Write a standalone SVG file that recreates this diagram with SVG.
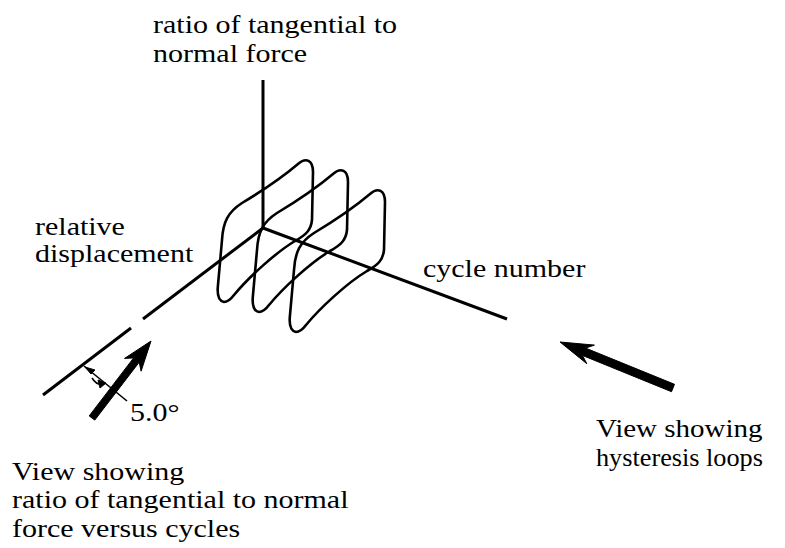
<svg xmlns="http://www.w3.org/2000/svg" width="785" height="548" viewBox="0 0 785 548">
<style>
.t{font-family:"Liberation Serif","Times New Roman",serif;font-size:25px;fill:#000}
.ax{stroke:#000;stroke-width:3;fill:none}
.lp{stroke:#000;stroke-width:2.6;fill:none;stroke-linejoin:round}
.thin{stroke:#000;stroke-width:1.6;fill:none}
.arr{fill:#000;stroke:#000;stroke-width:1;stroke-linejoin:round}
</style>
<defs>
<path id="loop" d="M224,302 C218,301 217,294 218,285 L222,240 C223,222 228,212 242,203 C262,191 285,175 298,164 C306,157 313,160 313,172 L312,220 C311,230 306,235 295,241 C275,253 248,278 234,295 C231,299 228,302 224,302 Z"/>
</defs>
<rect width="785" height="548" fill="#fff"/>
<g id="axes">
<line class="ax" x1="263" y1="80" x2="263" y2="228"/>
<line class="ax" x1="263" y1="228" x2="507" y2="319"/>
<line class="ax" x1="263" y1="228" x2="143" y2="319"/>
<line class="ax" x1="131" y1="328" x2="43" y2="395"/>
</g>
<g id="loops">
<use href="#loop" class="lp"/>
<use href="#loop" class="lp" transform="translate(35,10)"/>
<use href="#loop" class="lp" transform="translate(72,30)"/>
</g>
<g id="angle">
<line class="thin" x1="84" y1="366" x2="127" y2="401"/>
<path class="arr" d="M85,367 L95,370 L91,374 Z"/>
<path class="thin" d="M92,378 Q97,386 104,384"/>
<path class="arr" d="M106,383 L98,380 L100,388 Z"/>
</g>
<g id="arrow-left">
<polygon class="arr" points="151,341 141.1,371.2 139.2,362.2 94.8,420.1 89.2,415.9 133.6,357.9 124.5,358.4"/>
</g>
<g id="arrow-right">
<polygon class="arr" points="560,342 594.4,345.1 585.6,348.1 674.5,384.3 671.5,391.7 582.6,355.5 586.8,363.7"/>
</g>
<g id="labels">
<text class="t" transform="matrix(1.2 0 0 1 153 33)">ratio of tangential to</text>
<text class="t" transform="matrix(1.2 0 0 1 153 62)">normal force</text>
<text class="t" transform="matrix(1.2 0 0 1 35 235)">relative</text>
<text class="t" transform="matrix(1.2 0 0 1 35 262)">displacement</text>
<text class="t" transform="matrix(1.2 0 0 1 423 277)">cycle number</text>
<text class="t" transform="matrix(1.2 0 0 1 130 421)">5.0°</text>
<text class="t" transform="matrix(1.2 0 0 1 12 480)">View showing</text>
<text class="t" transform="matrix(1.2 0 0 1 12 508)">ratio of tangential to normal</text>
<text class="t" transform="matrix(1.2 0 0 1 12 537)">force versus cycles</text>
<text class="t" transform="matrix(1.16 0 0 1 596 437)">View showing</text>
<text class="t" transform="matrix(1.05 0 0 1 596 466)">hysteresis loops</text>
</g>
</svg>
